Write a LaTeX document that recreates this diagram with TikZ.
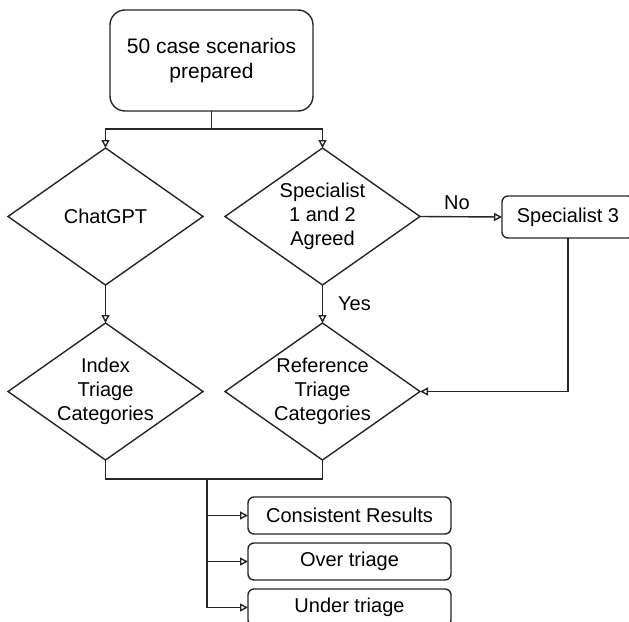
\documentclass[tikz,border=0pt]{standalone}
\usepackage{fontspec}
\setmainfont{Liberation Sans}
\usetikzlibrary{shapes.geometric,arrows.meta}
\begin{document}
\begin{tikzpicture}[x=1pt,y=-1pt,
  every node/.style={font=\fontsize{20}{24}\selectfont, text=black},
  ln/.style={line width=1.4pt, draw=black!85},
  arr/.style={ln, -{Triangle[open,length=8pt,width=8pt]}},
  dia/.style={shape=diamond, draw=black!85, line width=1.4pt, minimum width=195pt, minimum height=137pt, inner sep=0pt, outer sep=0pt},
  rbox/.style={draw=black!85, line width=1.4pt, rounded corners=6pt, minimum width=203pt, minimum height=37pt, inner sep=0pt, outer sep=0pt},
  lbl/.style={inner sep=0pt, align=center}]
\useasboundingbox (0,0) rectangle (629,621);
\clip (0,0) rectangle (629,621);
% nodes
\node[draw=black!85, line width=1.4pt, rounded corners=15pt, minimum width=203pt, minimum height=101pt, inner sep=0pt, outer sep=0pt, align=center, font=\fontsize{21}{25.2}\selectfont] (top) at (211.5,60.5) {50 case scenarios\\prepared};
\node[dia, label={[lbl]center:ChatGPT}] (chat) at (105.5,216.5) {};
\node[dia, label={[lbl]center:Specialist\\1 and 2\\Agreed}] (spec) at (322.5,216.5) {};
\node[draw=black!85, line width=1.4pt, rounded corners=6pt, minimum width=132pt, minimum height=42pt, inner sep=0pt, outer sep=0pt] (sp3) at (568,217) {Specialist 3};
\node[dia, label={[lbl]center:Index\\Triage\\Categories}] (idx) at (105.5,391.5) {};
\node[dia, label={[lbl]center:Reference\\Triage\\Categories}] (ref) at (322.5,391.5) {};
\node[rbox] (r1) at (349.5,515.5) {Consistent Results};
\node[rbox] (r2) at (349.5,561.5) {Over triage};
\node[rbox] (r3) at (349.5,607.5) {Under triage};
\coordinate (j1) at (211.5,129);
\coordinate (j2) at (207,479);
% connectors
\draw[ln] (top.south) -- (j1);
\draw[arr] (j1) -| (chat.north);
\draw[arr] (j1) -| (spec.north);
\draw[arr] (chat.south) -- (idx.north);
\draw[arr] (spec.south) -- node[pos=0.684, anchor=base west, xshift=15pt, inner sep=0pt] {Yes} (ref.north);
\draw[arr] (spec.east) -- node[pos=0.45, anchor=base, yshift=7pt, inner sep=0pt] {No} (sp3.west);
\draw[arr] (sp3.south) |- (ref.east);
\draw[ln] (idx.south) |- (j2) -| (ref.south);
\draw[arr] (j2) |- (r1.west);
\draw[arr] (j2) |- (r2.west);
\draw[arr] (j2) |- (r3.west);
\end{tikzpicture}
\end{document}
